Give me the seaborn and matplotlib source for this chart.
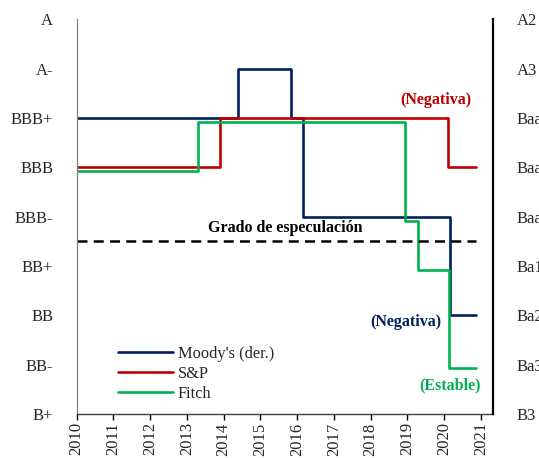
import pandas as pd
import seaborn as sns
import matplotlib.pyplot as plt

# rating scale (0 = B+/B3 ... 8 = A/A2)
left_labels = ["B+", "BB-", "BB", "BB+", "BBB-", "BBB", "BBB+", "A-", "A"]
right_labels = ["B3", "Ba3", "Ba2", "Ba1", "Baa3", "Baa2", "Baa1", "A3", "A2"]
years = list(range(2010, 2022))

# step change points
moody_x = [2010, 2014.40, 2015.82, 2016.17, 2020.16, 2020.88]
moody_y = [6, 7, 6, 4, 2, 2]
sp_x = [2010, 2013.91, 2020.11, 2020.88]
sp_y = [5, 6, 5, 5]
fitch_x = [2010, 2013.31, 2018.95, 2019.30, 2020.14, 2020.88]
fitch_y = [4.92, 5.92, 3.92, 2.92, 0.94, 0.94]
spec_level = 3.5

names = ["Moody's (der.)", "S&P", "Fitch"]
colors = ["#002060", "#C00000", "#00B050"]

df = pd.concat([
    pd.DataFrame({"Año": moody_x, "Rating": moody_y, "Agencia": names[0]}),
    pd.DataFrame({"Año": sp_x, "Rating": sp_y, "Agencia": names[1]}),
    pd.DataFrame({"Año": fitch_x, "Rating": fitch_y, "Agencia": names[2]}),
])

sns.set_style("white")
plt.rcParams['font.family'] = ['Liberation Serif', 'DejaVu Serif']
plt.rcParams['font.size'] = 12

fig = plt.figure(figsize=(5.39, 4.58), dpi=100)
ax = fig.add_axes([0.1423, 0.096, 0.7729, 0.8615])

sns.lineplot(data=df, x="Año", y="Rating", hue="Agencia", hue_order=names,
             palette=colors, estimator=None, drawstyle="steps-post",
             linewidth=1.9, ax=ax)

ax.plot([2010, 2020.88], [spec_level, spec_level], color="black",
        linestyle=(0, (4, 2.5)), linewidth=1.8)

ax.set_xlim(2010, 2021.34)
ax.set_ylim(0, 8)
ax.set_xticks(years)
ax.set_xticklabels([str(y) for y in years], rotation=90, fontsize=12)
ax.set_yticks(range(9))
ax.set_yticklabels(left_labels, fontsize=12)
ax.set_xlabel("")
ax.set_ylabel("")
ax.tick_params(axis="x", direction="out", length=4, width=1, color="black",
               bottom=True, pad=2)
ax.tick_params(axis="y", length=0, pad=17)
ax.spines["top"].set_visible(False)
ax.spines["right"].set_visible(False)
ax.spines["left"].set_color("#808080")
ax.spines["left"].set_linewidth(0.9)
ax.spines["bottom"].set_color("#404040")
ax.spines["bottom"].set_linewidth(1.0)

ax2 = ax.twinx()
ax2.set_ylim(0, 8)
ax2.set_yticks(range(9))
ax2.set_yticklabels(right_labels, fontsize=12)
ax2.tick_params(axis="y", length=0, pad=17)
for s in ["top", "left", "bottom"]:
    ax2.spines[s].set_visible(False)
ax2.spines["right"].set_color("black")
ax2.spines["right"].set_linewidth(1.6)

ax.text(2019.78, 6.36, "(Negativa)", color="#C00000", fontweight="bold",
        ha="center", va="center", fontsize=11.5)
ax.text(2015.67, 3.78, "Grado de especulación", color="black",
        fontweight="bold", ha="center", va="center", fontsize=11.5)
ax.text(2018.96, 1.87, "(Negativa)", color="#002060", fontweight="bold",
        ha="center", va="center", fontsize=11.5)
ax.text(2020.16, 0.59, "(Estable)", color="#00B050", fontweight="bold",
        ha="center", va="center", fontsize=11.5)

ax.legend(loc="lower left", bbox_to_anchor=(0.099, 0.03), frameon=False,
          borderpad=0, borderaxespad=0, handlelength=3.4, handletextpad=0.25,
          labelspacing=0.25, fontsize=11.75)

plt.savefig("out.png", dpi=100)
